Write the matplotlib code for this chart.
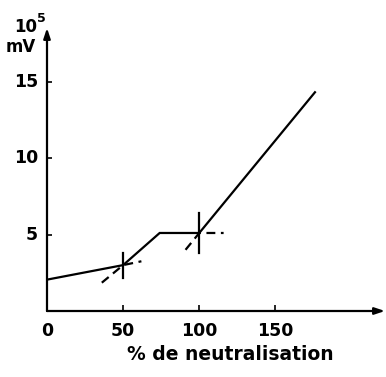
import matplotlib
matplotlib.use("Agg")
import matplotlib.pyplot as plt

# data
curve_x = [0, 50, 74, 100, 176]
curve_y = [2.05, 3.0, 5.1, 5.1, 14.3]
dash1_x = [36, 50, 62]
dash1_y = [1.85, 3.0, 3.25]
dash2_x = [91, 100, 116]
dash2_y = [4.0, 5.1, 5.1]
marker_x = [50, 100]
marker_lo = [2.15, 3.8]
marker_hi = [3.8, 6.4]
xticks = [50, 100, 150]
xticklabels = ["0", "50", "100", "150"]
yticks = [5, 10, 15]

W, H = 386, 377
fig = plt.figure(figsize=(W / 100, H / 100), dpi=100)
x0, y0 = 47, 311
xmax, ymax = 222, 18.5
ax = fig.add_axes([x0 / W, (H - y0) / H, (385 - x0) / W, (y0 - 28) / H])
ax.set_xlim(0, xmax)
ax.set_ylim(0, ymax)
ax.axis("off")

lw = 1.6
# axes with arrows
ax.annotate("", xy=(xmax, 0), xytext=(0, 0),
            arrowprops=dict(arrowstyle="-|>,head_length=0.6,head_width=0.2", lw=lw, color="black",
                            shrinkA=0, shrinkB=0), annotation_clip=False)
ax.annotate("", xy=(0, ymax), xytext=(0, 0),
            arrowprops=dict(arrowstyle="-|>,head_length=0.6,head_width=0.2", lw=lw, color="black",
                            shrinkA=0, shrinkB=0), annotation_clip=False)
# ticks (inward)
for t in xticks:
    ax.plot([t, t], [0, 0.4], color="black", lw=1.2, solid_capstyle="butt")
for t in yticks:
    ax.plot([0, 3.5], [t, t], color="black", lw=1.2, solid_capstyle="butt")

fs = 12.5
for i, lab in enumerate(xticklabels):
    ax.text(i * 50, -0.75, lab, ha="center", va="top", fontsize=fs, fontweight="bold",
            family="DejaVu Sans")
for t in yticks:
    ax.text(-6, t, str(t), ha="right", va="center", fontsize=fs, fontweight="bold",
            family="DejaVu Sans")

# curve
ax.plot(curve_x, curve_y, color="black", lw=lw, solid_joinstyle="miter")
ax.plot(dash1_x, dash1_y, color="black", lw=lw, linestyle=(0, (4, 2.5)))
ax.plot(dash2_x, dash2_y, color="black", lw=lw, linestyle=(0, (4, 2.5)))
for mx, lo, hi in zip(marker_x, marker_lo, marker_hi):
    ax.plot([mx, mx], [lo, hi], color="black", lw=lw)

fig.text(37 / W, 1 - 27 / H, "10", ha="right", va="center", fontsize=12, fontweight="bold")
fig.text(37.5 / W, 1 - 18 / H, "5", ha="left", va="center", fontsize=9, fontweight="bold")
fig.text(36 / W, 1 - 47 / H, "mV", ha="right", va="center", fontsize=12, fontweight="bold")
fig.text(230 / W, 1 - 355 / H, "% de neutralisation", ha="center", va="center",
         fontsize=13.5, fontweight="bold")

fig.savefig("out.png", dpi=100, facecolor="white")
